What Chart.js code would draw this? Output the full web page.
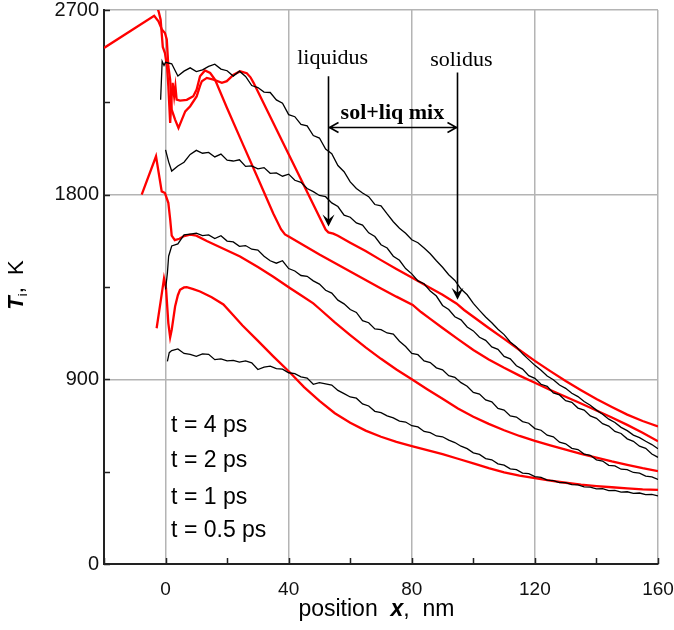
<!DOCTYPE html>
<html lang="en">
<head>
<meta charset="UTF-8">
<title>Ion temperature profiles</title>
<script src="https://cdn.jsdelivr.net/npm/chart.js@4"></script>
<style>
  body { margin: 0; background: #fff; }
  #wrap { width: 674px; height: 630px; }
</style>
</head>
<body>
<div id="wrap"><canvas id="profile" width="674" height="630"></canvas></div>
<script>
// sample positions of the MD profiles, nm
const mdX = [
  0, 2, 4, 6, 8, 10, 12, 14, 16, 18,
  20, 22, 24, 26, 28, 30, 32, 34, 36, 38,
  40, 42, 44, 46, 48, 50, 52, 54, 56, 58,
  60, 62, 64, 66, 68, 70, 72, 74, 76, 78,
  80, 82, 84, 86, 88, 90, 92, 94, 96, 98,
  100, 102, 104, 106, 108, 110, 112, 114, 116, 118,
  120, 122, 124, 126, 128, 130, 132, 134, 136, 138,
  140, 142, 144, 146, 148, 150, 152, 154, 156, 158,
  160
];

// MD ion temperature on mdX, K (black curves)
const md4ps = [
  2445, 2438, 2378, 2402, 2418, 2400, 2408, 2425, 2436, 2412,
  2404, 2378, 2402, 2376, 2332, 2322, 2300, 2298, 2262, 2246,
  2190, 2180, 2142, 2135, 2088, 2076, 2022, 2000, 1942, 1912,
  1862, 1830, 1808, 1790, 1752, 1746, 1706, 1668, 1636, 1612,
  1580, 1566, 1540, 1512, 1478, 1446, 1410, 1382, 1340, 1312,
  1270, 1236, 1204, 1176, 1144, 1118, 1082, 1058, 1024, 996,
  968, 944, 916, 898, 872, 856, 832, 816, 792, 774,
  750, 730, 706, 690, 666, 650, 628, 616, 598, 582,
  562
];
const md2ps = [
  2018, 1915, 1940, 1958, 1996, 2016, 2002, 2006, 1984, 1998,
  1968, 1964, 1970, 1938, 1940, 1926, 1932, 1904, 1906, 1890,
  1900, 1870, 1860, 1830, 1815, 1796, 1790, 1760, 1742, 1700,
  1690, 1662, 1652, 1614, 1596, 1556, 1540, 1500, 1480, 1440,
  1414, 1380, 1366, 1330, 1306, 1260, 1240, 1205, 1190, 1155,
  1136, 1105, 1090, 1058, 1046, 1012, 1000, 966, 950, 918,
  905, 876, 866, 834, 824, 796, 788, 760, 750, 722,
  710, 684, 672, 646, 636, 610, 598, 574, 564, 536,
  520
];
const md1ps = [
  1338, 1550, 1560, 1604, 1608, 1612, 1600, 1604, 1586, 1600,
  1574, 1570, 1548, 1552, 1534, 1530, 1500, 1478, 1466, 1478,
  1440, 1428, 1406, 1402, 1380, 1364, 1334, 1320, 1286, 1268,
  1240, 1226, 1186, 1176, 1146, 1142, 1126, 1120, 1086, 1060,
  1026, 1020, 990, 982, 956, 946, 918, 910, 884, 866,
  836, 828, 800, 790, 758, 750, 722, 716, 694, 686,
  660, 652, 628, 620, 594, 586, 564, 558, 536, 530,
  508, 502, 481, 478, 462, 460, 446, 443, 428, 425,
  412
];
const md05ps = [
  null, 1040, 1048, 1026, 1022, 1012, 1024, 1022, 996, 1000,
  990, 992, 984, 990, 980, 948, 960, 964, 952, 950,
  932, 928, 912, 906, 876, 884, 878, 872, 846, 830,
  814, 808, 780, 770, 744, 738, 722, 712, 696, 692,
  674, 668, 646, 640, 624, 620, 604, 592, 574, 562,
  542, 534, 514, 508, 488, 482, 464, 460, 443, 440,
  426, 422, 409, 406, 397, 397, 387, 386, 376, 375,
  366, 367, 358, 359, 350, 352, 344, 346, 338, 339,
  332
];

// extra (x, T) points at the surface, between the regular samples
const md4psHead = [[-1.6, 2263], [-1.1, 2450], [-0.5, 2430]];
const md2psHead = [[1.0, 1960]];
const md1psHead = [[0.6, 1418], [1.0, 1500]];
const md05psHead = [[0.6, 987], [1.2, 1030]];

// model ion temperature, (x nm, T K) pairs (red curves)
const ttm4ps = [
  [-20, 2515], [-3.7, 2672], [-2.3, 2645], [-1.2, 2605], [-0.2, 2588], [0.4, 2556],
  [0.9, 2426], [1.5, 2361], [2.0, 2214], [3.1, 2166], [4.2, 2125], [5.3, 2166],
  [6.4, 2206], [8.0, 2231], [10.1, 2279], [11.2, 2330], [11.8, 2353], [13.4, 2369],
  [15.6, 2361], [18.3, 2345], [19.9, 2353], [22.1, 2385], [24.2, 2401], [26.4, 2392],
  [27.6, 2372], [28.6, 2345], [52.0, 1630], [52.9, 1616], [54.5, 1610], [56, 1600],
  [60, 1566], [65, 1525], [70, 1481], [75, 1438], [80, 1396], [85, 1354], [90, 1312],
  [94.5, 1270], [97, 1238], [100, 1205], [105, 1150], [110, 1097], [115, 1043],
  [120, 990], [125, 940], [130, 892], [135, 847], [140, 804], [145, 765], [150, 728],
  [155, 697], [160, 670]
];
const ttm2ps = [
  [-3.0, 2730], [-2.2, 2690], [-1.6, 2653], [-0.9, 2520], [-0.2, 2490], [0.5, 2420],
  [0.9, 2330], [1.5, 2150], [1.9, 2263], [2.3, 2345], [2.8, 2279], [3.2, 2328],
  [3.6, 2263], [4.7, 2258], [6.9, 2262], [9.0, 2280], [10.1, 2312], [11.2, 2377],
  [12.8, 2405], [14.5, 2393], [16.1, 2360], [19.9, 2225], [25, 2050], [30, 1880],
  [35, 1708], [37.5, 1632], [38.8, 1606], [40, 1596], [45, 1552], [50, 1508],
  [55, 1467], [60, 1425], [65, 1384], [70, 1343], [75, 1303], [80.3, 1263],
  [83, 1228], [86, 1195], [90, 1150], [95, 1096], [100, 1043], [105, 997],
  [110, 956], [115, 918], [120, 883], [125, 848], [130, 815], [135, 782],
  [140, 748], [145, 714], [150, 678], [155, 640], [160, 598]
];
const ttm1ps = [
  [-7.75, 1800], [-3.1, 1987], [-1.25, 1816], [-0.2, 1808], [0.9, 1760], [1.5, 1680],
  [2.0, 1600], [3.0, 1578], [4.5, 1585], [6, 1598], [8, 1605], [10, 1600],
  [13.4, 1574], [24.2, 1499], [30, 1447], [35, 1400], [40.5, 1344], [44, 1310],
  [48, 1270], [50, 1244], [55, 1178], [60, 1116], [65, 1056], [70, 1000],
  [75, 948], [80, 900], [85, 852], [90, 805], [95, 758], [100, 718], [105, 683],
  [110, 652], [115, 624], [120, 600], [125, 578], [130, 557], [135, 537],
  [140, 519], [145, 500], [150, 483], [155, 467], [160, 453]
];
const ttm05ps = [
  [-2.9, 1149], [-1.5, 1290], [-0.5, 1392], [0.15, 1344], [0.9, 1174], [1.5, 1105],
  [2.0, 1141], [3.1, 1255], [4.0, 1310], [4.7, 1336], [6.0, 1348], [6.9, 1349],
  [9, 1340], [11.2, 1328], [15, 1300], [18.8, 1265], [22, 1212], [25, 1162],
  [29.7, 1092], [35, 1012], [40.5, 932], [45, 862], [50, 795], [55, 735],
  [60, 688], [65, 650], [70, 620], [75, 595], [80, 575], [85, 555], [90, 535],
  [95, 513], [100, 490], [105, 467], [110, 447], [115, 431], [120, 418],
  [125, 406], [130, 396], [135, 387], [140, 380], [145, 374], [150, 369],
  [155, 364], [160, 361]
];

const xLabels = [0, 40, 80, 120, 160];
const yLabels = [0, 900, 1800, 2700];

const timeLabels = ['t = 4 ps', 't = 2 ps', 't = 1 ps', 't = 0.5 ps'];
const timeLabelX = 1.8;
const timeLabelT = [645, 475, 293, 132];

// liquidus / solidus markers (x in nm, T in K)
const liquidusX = 52.7;
const solidusX = 94.7;

const FONT = '"Liberation Sans", Arial, sans-serif';
const SERIF = '"Liberation Serif", "Times New Roman", serif';

function mdSeries(head, vals) {
  const pts = head.map(p => ({ x: p[0], y: p[1] }));
  vals.forEach((v, i) => {
    if (v !== null) pts.push({ x: mdX[i], y: v });
  });
  return pts.sort((a, b) => a.x - b.x);
}

function pairSeries(pairs) {
  return pairs.map(p => ({ x: p[0], y: p[1] }));
}

function blackLine(data) {
  return { data, borderColor: '#000', borderWidth: 1.3, pointRadius: 0, tension: 0, fill: false };
}

function redLine(data) {
  return { data, borderColor: '#ff0000', borderWidth: 2.3, pointRadius: 0, tension: 0, fill: false };
}

// draws a text made of several differently styled runs
function runs(ctx, parts, x, y, align) {
  let total = 0;
  parts.forEach(p => { ctx.font = p.font; total += ctx.measureText(p.text).width; });
  let cx = align === 'center' ? x - total / 2 : x;
  parts.forEach(p => {
    ctx.font = p.font;
    ctx.fillText(p.text, cx, y + (p.dy || 0));
    cx += ctx.measureText(p.text).width;
  });
}

const notes = {
  id: 'notes',
  afterDraw(chart) {
    const { ctx, chartArea: area, scales } = chart;
    const xs = scales.x, ys = scales.y;
    const px = v => xs.getPixelForValue(v);
    const py = v => ys.getPixelForValue(v);
    ctx.save();

    // short tick marks pointing into the plot
    ctx.strokeStyle = '#222';
    ctx.lineWidth = 1.5;
    ctx.beginPath();
    xs.ticks.forEach(t => {
      const p = Math.round(px(t.value)) + 0.5;
      ctx.moveTo(p, area.bottom);
      ctx.lineTo(p, area.bottom - 6);
    });
    ys.ticks.forEach(t => {
      const p = Math.round(py(t.value)) + 0.5;
      ctx.moveTo(area.left, p);
      ctx.lineTo(area.left + 6, p);
    });
    ctx.stroke();

    ctx.fillStyle = '#000';
    ctx.textBaseline = 'alphabetic';

    // times of the profiles
    ctx.font = '23px ' + FONT;
    ctx.textAlign = 'left';
    timeLabels.forEach((s, i) => ctx.fillText(s, px(timeLabelX), py(timeLabelT[i])));

    // axis titles
    ctx.textAlign = 'left';
    runs(ctx, [
      { text: 'position  ', font: '23px ' + FONT },
      { text: 'x', font: 'italic bold 23px ' + FONT },
      { text: ',  nm', font: '23px ' + FONT }
    ], px(68.5), area.bottom + 52, 'center');

    ctx.save();
    ctx.translate(23, (area.top + area.bottom) / 2 - 2);
    ctx.rotate(-Math.PI / 2);
    runs(ctx, [
      { text: 'T', font: 'italic bold 22px ' + FONT },
      { text: 'i', font: '13px ' + FONT, dy: 4 },
      { text: ',  K', font: '22px ' + FONT }
    ], 0, 0, 'center');
    ctx.restore();

    // liquidus and solidus markers
    ctx.font = '22px ' + SERIF;
    ctx.textAlign = 'center';
    ctx.fillText('liquidus', px(54.3), py(2439));
    ctx.fillText('solidus', px(96.1), py(2426));
    ctx.font = 'bold 22px ' + SERIF;
    ctx.fillText('sol+liq mix', px(73.7), py(2169));

    ctx.strokeStyle = '#000';
    ctx.lineWidth = 1.6;
    const lx = Math.round(px(liquidusX)) + 0.5;
    const sx = Math.round(px(solidusX)) + 0.5;
    const ly = py(1645), sy = py(1288), my = Math.round(py(2130)) + 0.5;
    ctx.beginPath();
    ctx.moveTo(lx, py(2377)); ctx.lineTo(lx, ly - 6);
    ctx.moveTo(sx, py(2395)); ctx.lineTo(sx, sy - 6);
    ctx.moveTo(lx + 1, my); ctx.lineTo(sx - 1, my);
    // open heads of the span arrow
    ctx.moveTo(lx + 10, my - 5); ctx.lineTo(lx + 1, my); ctx.lineTo(lx + 10, my + 5);
    ctx.moveTo(sx - 10, my - 5); ctx.lineTo(sx - 1, my); ctx.lineTo(sx - 10, my + 5);
    ctx.stroke();

    // filled heads of the vertical arrows
    [[lx, ly], [sx, sy]].forEach(([ax, ay]) => {
      ctx.beginPath();
      ctx.moveTo(ax, ay);
      ctx.lineTo(ax - 6, ay - 12);
      ctx.lineTo(ax, ay - 7);
      ctx.lineTo(ax + 6, ay - 12);
      ctx.closePath();
      ctx.fill();
    });

    ctx.restore();
  }
};

Chart.defaults.font.family = FONT;
Chart.defaults.color = '#111';

new Chart(document.getElementById('profile'), {
  type: 'line',
  data: {
    datasets: [
      blackLine(mdSeries(md4psHead, md4ps)),
      blackLine(mdSeries(md2psHead, md2ps)),
      blackLine(mdSeries(md1psHead, md1ps)),
      blackLine(mdSeries(md05psHead, md05ps)),
      redLine(pairSeries(ttm4ps)),
      redLine(pairSeries(ttm2ps)),
      redLine(pairSeries(ttm1ps)),
      redLine(pairSeries(ttm05ps))
    ]
  },
  options: {
    responsive: false,
    animation: false,
    devicePixelRatio: 1,
    events: [],
    layout: { padding: { left: 0, right: 16, top: 10, bottom: 0 } },
    plugins: { legend: { display: false }, tooltip: { enabled: false } },
    scales: {
      x: {
        type: 'linear',
        min: -20,
        max: 160,
        afterFit(scale) {
          scale.height = 66;
          scale.paddingLeft = 0;
          scale.paddingRight = 0;
        },
        ticks: {
          stepSize: 20,
          autoSkip: false,
          maxRotation: 0,
          padding: 14,
          font: { size: 19 },
          color: '#111',
          callback: v => xLabels.includes(v) ? String(v) : ''
        },
        grid: {
          drawTicks: false,
          lineWidth: 1.5,
          color: c => (c.tick && xLabels.includes(c.tick.value)) ? '#b4b4b4' : 'rgba(0,0,0,0)'
        },
        border: { color: '#222', width: 2 }
      },
      y: {
        min: 0,
        max: 2700,
        afterFit(scale) {
          scale.width = 104;
          scale.paddingTop = 0;
          scale.paddingBottom = 0;
        },
        ticks: {
          stepSize: 450,
          autoSkip: false,
          padding: 5,
          font: { size: 20 },
          color: '#111',
          callback: v => yLabels.includes(v) ? String(v) : ''
        },
        grid: {
          drawTicks: false,
          lineWidth: 1.5,
          color: c => (c.tick && yLabels.includes(c.tick.value) && c.tick.value > 0) ? '#b4b4b4' : 'rgba(0,0,0,0)'
        },
        border: { color: '#222', width: 2 }
      }
    }
  },
  plugins: [notes]
});
</script>
</body>
</html>
